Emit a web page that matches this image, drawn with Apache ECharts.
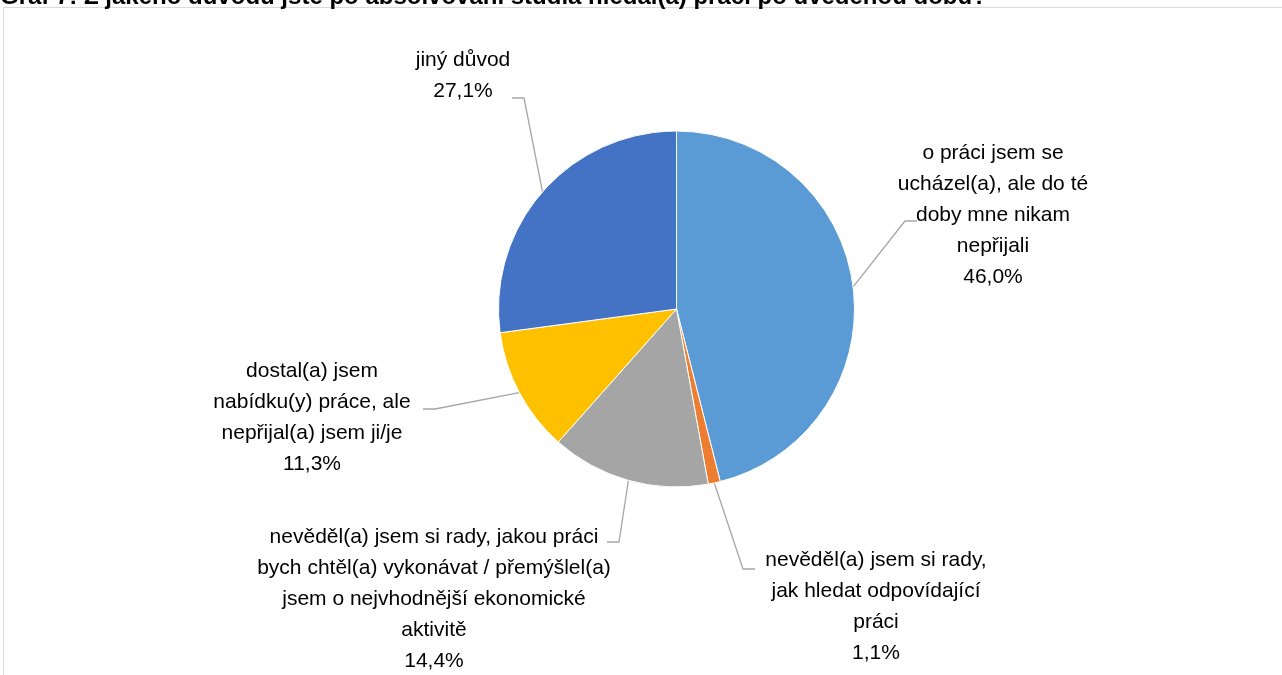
<!DOCTYPE html>
<html>
<head>
<meta charset="utf-8">
<script src="https://cdn.jsdelivr.net/npm/echarts@6/dist/echarts.min.js"></script>
<style>
 html, body { margin: 0; padding: 0; background: #fff; }
 #chart { width: 1282px; height: 675px; }
</style>
</head>
<body>
<div id="chart"></div>
<script>
// kategorie a hodnoty (%)
var categories = [
  'o práci jsem se\nucházel(a), ale do té\ndoby mne nikam\nnepřijali',
  'nevěděl(a) jsem si rady,\njak hledat odpovídající\npráci',
  'nevěděl(a) jsem si rady, jakou práci\nbych chtěl(a) vykonávat / přemýšlel(a)\njsem o nejvhodnější ekonomické\naktivitě',
  'dostal(a) jsem\nnabídku(y) práce, ale\nnepřijal(a) jsem ji/je',
  'jiný důvod'
];
var values = [46.0, 1.1, 14.4, 11.3, 27.1];
var colors = ['#5B9BD5', '#ED7D31', '#A5A5A5', '#FFC000', '#4472C4'];

// umístění popisků (střed textu) a místo, kde k nim přichází spojnice
var labelPos = [[993, 215], [876, 607], [434, 599], [312, 418], [463, 76]];
var leaderEnd = [[917, 221], [755, 569], [607, 542], [423, 409], [512, 98]];

var chart = echarts.init(document.getElementById('chart'));

var font = '"Liberation Sans", Arial, sans-serif';

var option = {
  backgroundColor: '#fff',
  animation: false,
  title: {
    text: 'Graf 7: Z jakého důvodu jste po absolvování studia hledal(a) práci po uvedenou dobu?',
    left: 0,
    top: -15,
    padding: 0,
    textStyle: { fontFamily: font, fontWeight: 'bold', fontSize: 24, color: '#000' }
  },
  graphic: [{
    type: 'rect',
    silent: true,
    shape: { x: 3.5, y: 7.5, width: 1290, height: 700 },
    style: { fill: 'none', stroke: '#d9d9d9', lineWidth: 1 }
  }],
  series: [{
    type: 'pie',
    center: [676.5, 309],
    radius: 178,
    startAngle: 90,
    clockwise: true,
    data: values.map(function (v, i) {
      return { name: categories[i], value: v, itemStyle: { color: colors[i] } };
    }),
    itemStyle: { borderColor: '#fff', borderWidth: 1 },
    label: {
      show: true,
      formatter: function (p) {
        return p.name + '\n' + p.value.toFixed(1).replace('.', ',') + '%';
      },
      fontFamily: font,
      fontSize: 21,
      lineHeight: 31,
      color: '#000',
      align: 'center'
    },
    labelLine: {
      show: true,
      length: 10,
      length2: 10,
      lineStyle: { color: '#a6a6a6', width: 1.3 }
    },
    labelLayout: function (params) {
      var i = params.dataIndex;
      var p = labelPos[i];
      var res = { x: p[0], y: p[1], align: 'center', verticalAlign: 'middle' };
      var pts = params.labelLinePoints;
      if (pts && pts.length) {
        var start = pts[0];
        var end = leaderEnd[i];
        var dir = start[0] < end[0] ? -1 : 1;
        res.labelLinePoints = [start, [end[0] + dir * 12, end[1]], end];
      }
      return res;
    }
  }]
};

chart.setOption(option);
</script>
</body>
</html>
